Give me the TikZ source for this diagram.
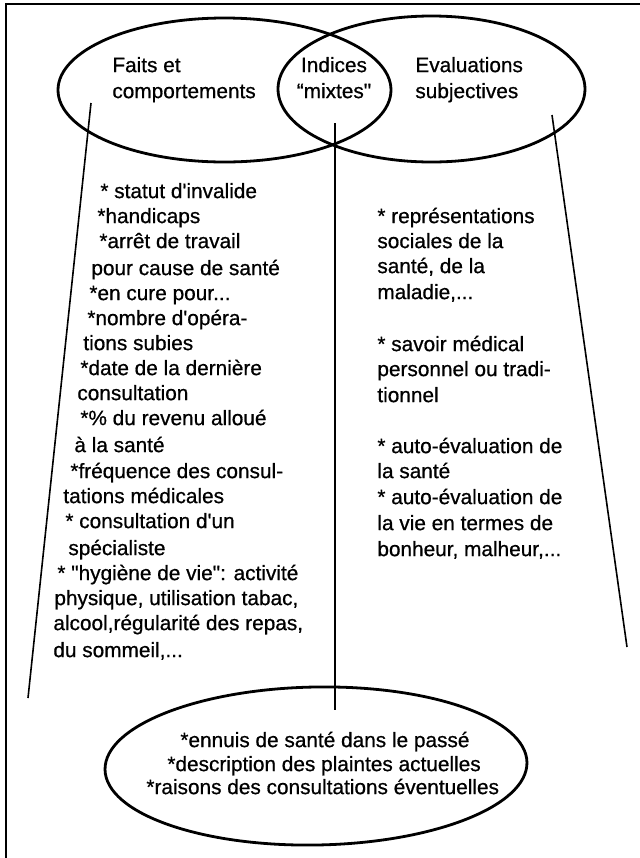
\documentclass[tikz,border=0pt]{standalone}
\usepackage{fontspec}
\setmainfont{Liberation Sans}[Ligatures=TeXOff, FakeBold=0.7]
\usetikzlibrary{shapes.geometric}
\tikzset{
  txt/.style={anchor=west, inner sep=0pt, font=\fontsize{10.4}{12.75}\selectfont, text height=0.72em, text depth=0.21em},
  ctxt/.style={txt, anchor=center},
  oval/.style={ellipse, draw, line width=1.4pt, inner sep=0pt},
  link/.style={line width=0.8pt},
  frameline/.style={line width=1.4pt}
}
\begin{document}
\begin{tikzpicture}[x=0.5pt, y=-0.5pt]
\useasboundingbox (0,0) rectangle (640,858);
% frame
\coordinate (fbl) at (6,858);
\coordinate (ftl) at (6,4);
\coordinate (ftr) at (640,4);
\draw[frameline] (fbl) -- (ftl) -- (ftr);
% ellipses
\node[oval, minimum width=166.5pt, minimum height=72pt] (faits) at (224.5,90) {};
\node[oval, minimum width=153.5pt, minimum height=73pt] (evals) at (431.5,89) {};
\node[oval, minimum width=211pt, minimum height=79pt, rotate=1] (bottom) at (316,766) {};
% headings
\node[txt] (f1) at (112,67) {Faits et};
\node[txt] (f2) at (112,93) {comportements};
\node[ctxt] (m1) at (334,67) {Indices};
\node[ctxt] (m2) at (334,93) {“mixtes"};
\node[txt] (e1) at (415,67) {Evaluations};
\node[txt] (e2) at (415,93) {subjectives};
% connectors
\coordinate (la) at (91,103);
\coordinate (lb) at (28,698);
\coordinate (ma) at (335,123);
\coordinate (mb) at (335,710);
\coordinate (ra) at (552,115);
\coordinate (rb) at (627,647);
\draw[link] (la) -- (lb);
\draw[link] (ma) -- (mb);
\draw[link] (ra) -- (rb);
% left column
\node[txt] (l1) at (100,193) {* statut d'invalide};
\node[txt] (l2) at (97,218) {*handicaps};
\node[txt] (l3) at (99,243) {*arrêt de travail};
\node[txt] (l4) at (91,270) {pour cause de santé};
\node[txt] (l5) at (89,295) {*en cure pour...};
\node[txt] (l6) at (87,320) {*nombre d'opéra-};
\node[txt] (l7) at (83,345) {tions subies};
\node[txt] (l8) at (80,370) {*date de la dernière};
\node[txt] (l9) at (77,395) {consultation};
\node[txt] (l10) at (80,420) {*\% du revenu alloué};
\node[txt] (l11) at (74,447) {à la santé};
\node[txt] (l12) at (70,473) {*fréquence des consul-};
\node[txt] (l13) at (63,498) {tations médicales};
\node[txt] (l14) at (65,523) {* consultation d'un};
\node[txt] (l15) at (68,550) {spécialiste};
\node[txt] (l16) at (57,575) {* "hygiène de vie": activité};
\node[txt] (l17) at (54,600) {physique, utilisation tabac,};
\node[txt] (l18) at (53,625) {alcool,régularité des repas,};
\node[txt] (l19) at (53,652) {du sommeil,...};
% right column
\node[txt] (r1) at (377,218) {* représentations};
\node[txt] (r2) at (377,243) {sociales de la};
\node[txt] (r3) at (377,268) {santé, de la};
\node[txt] (r4) at (377,294) {maladie,...};
\node[txt] (r5) at (377,346) {* savoir médical};
\node[txt] (r6) at (377,371) {personnel ou tradi-};
\node[txt] (r7) at (377,397) {tionnel};
\node[txt] (r8) at (377,448) {* auto-évaluation de};
\node[txt] (r9) at (377,473) {la santé};
\node[txt] (r10) at (377,499) {* auto-évaluation de};
\node[txt] (r11) at (377,525) {la vie en termes de};
\node[txt] (r12) at (377,551) {bonheur, malheur,...};
% bottom ellipse text
\node[txt] (b1) at (180,742) {*ennuis de santé dans le passé};
\node[txt] (b2) at (167,766) {*description des plaintes actuelles};
\node[txt] (b3) at (146,789) {*raisons des consultations éventuelles};
\end{tikzpicture}
\end{document}
